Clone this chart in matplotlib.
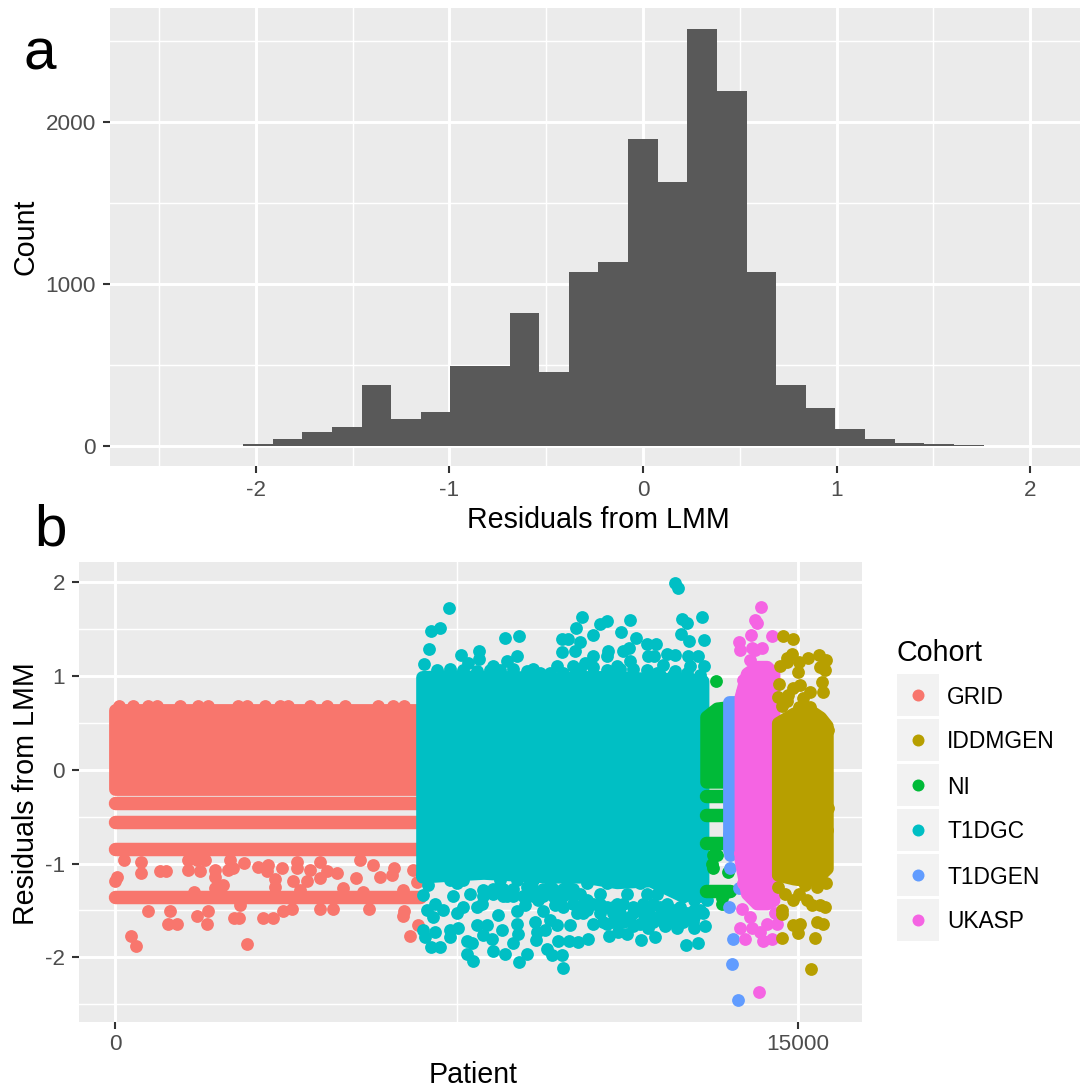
import numpy as np
import matplotlib
matplotlib.use('Agg')
import matplotlib.pyplot as plt
from matplotlib.patches import Rectangle

plt.rcParams['font.family'] = ['Liberation Sans', 'DejaVu Sans']
plt.rcParams['axes.unicode_minus'] = False

# panel a: histogram of the residuals
bin_start = -2.525
bin_width = 0.153
counts = [2, 2, 3, 10, 45, 86, 115, 380, 165, 212, 492, 495, 823, 455, 1075, 1135,
          1895, 1630, 2574, 2190, 1074, 380, 235, 105, 45, 20, 12, 5, 0, 2]

# panel b: cohorts
cohorts = ['GRID', 'IDDMGEN', 'NI', 'T1DGC', 'T1DGEN', 'UKASP']
colors = ['#F8766D', '#B79F00', '#00BA38', '#00BFC4', '#619CFF', '#F564E3']

# dense blocks: patient, lower and upper residual
grid_x = [0, 6700]
grid_low = [-0.20, -0.20]
grid_up = [0.64, 0.64]
grid_rows = [-0.352, -0.561, -0.849, -1.358]
grid_top = [(95, 0.683), (388, 0.683), (732, 0.683), (915, 0.675), (1427, 0.675), (1830, 0.683),
            (2049, 0.683), (2708, 0.683), (2891, 0.683), (3294, 0.683), (3623, 0.683), (3806, 0.683),
            (4282, 0.683), (4648, 0.675), (5050, 0.683), (5783, 0.683), (6112, 0.675), (6346, 0.683)]
grid_out = [(717, -1.504), (1207, -1.504), (1171, -1.643), (1368, -1.643), (1808, -1.561), (2042, -1.504),
            (2027, -1.643), (2613, -1.586), (2730, -1.586), (2752, -1.443), (3257, -1.586), (3462, -1.586),
            (3696, -1.504), (3894, -1.486), (4501, -1.486), (4794, -1.486), (5585, -1.486), (6346, -1.504),
            (6331, -1.561), (344, -1.77), (461, -1.877), (2891, -1.856), (6470, -1.77), (6661, -1.657),
            (197, -0.963), (571, -0.981), (571, -1.098), (51, -1.141), (0, -1.187), (988, -1.077),
            (1120, -1.077), (1610, -1.07), (1866, -1.077), (1610, -0.963), (1793, -0.963), (1976, -0.963),
            (2196, -1.07), (2196, -1.141), (2488, -1.07), (2598, -1.052), (2833, -0.992), (3147, -1.034),
            (3352, -1.017), (3330, -1.077), (3660, -1.052), (3513, -1.166), (3916, -1.184), (4209, -1.184),
            (3989, -1.052), (4282, -1.07), (4501, -1.159), (4648, -1.077), (4867, -1.098), (5292, -1.152),
            (5380, -0.963), (5673, -1.017), (5819, -1.141), (6075, -1.123), (6126, -1.052), (6551, -1.07),
            (6624, -1.195), (3513, -1.248), (4062, -1.283), (2379, -1.23), (2196, -1.266), (1734, -1.301),
            (5014, -1.266), (5453, -1.301), (6331, -1.283), (3989, -0.981), (4501, -0.981), (2525, -0.963)]

t1dgc_x = [6742, 7357, 8089, 8821, 9553, 10285, 11017, 11749, 12481, 12898]
t1dgc_up = [0.99, 1.0, 0.99, 0.99, 0.97, 0.99, 0.99, 0.97, 0.97, 0.95]
t1dgc_low = [-1.14, -1.12, -1.10, -1.12, -1.14, -1.14, -1.2, -1.18, -1.35, -1.2]
t1dgc_edge = [(7064, 1.06), (7357, 1.08), (7650, 1.06), (7943, 1.05), (8235, 1.06), (8455, 1.06), (8748, 1.08),
              (9041, 1.05), (9333, 1.03), (9553, 1.03), (9846, 1.03), (10212, 1.08), (10505, 1.10), (10797, 1.06),
              (11090, 1.08), (11383, 1.08), (11676, 1.06), (11969, 1.01), (12261, 1.01), (12554, 1.03), (12847, 1.01)]
t1dgc_above = [(7342, 1.73), (6932, 1.48), (7137, 1.51), (6903, 1.29), (6786, 1.13), (7599, 1.22),
               (8001, 1.27), (7994, 1.18), (7760, 1.14), (8565, 1.41), (8880, 1.43), (8821, 1.21),
               (8616, 1.16), (8309, 1.11), (9699, 1.11), (10065, 1.11), (9809, 1.39), (9956, 1.40),
               (10212, 1.36), (9809, 1.26), (10102, 1.27), (10117, 1.51), (10263, 1.63), (10490, 1.44),
               (10651, 1.55), (10797, 1.59), (11112, 1.47), (11302, 1.60), (11442, 1.41), (11690, 1.34),
               (11881, 1.34), (10819, 1.27), (11163, 1.27), (11280, 1.30), (10490, 1.21), (10322, 1.14),
               (10797, 1.21), (11310, 1.16), (11712, 1.21), (11837, 1.21), (12115, 1.23), (12298, 1.22),
               (12042, 1.12), (12298, 1.05), (12576, 1.21), (12810, 1.21), (12942, 1.11), (12627, 1.11),
               (12942, 1.38), (12591, 1.37), (12430, 1.45), (12452, 1.61), (12554, 1.57), (12884, 1.63),
               (12298, 1.99), (12357, 1.94), (9187, 1.08), (11017, 1.11), (11895, 1.03)]
t1dgc_below = [(6771, -1.34), (6881, -1.23), (6735, -1.12), (7357, -1.18), (7503, -1.21), (7650, -1.18),
               (7796, -1.32), (7430, -1.35), (6845, -1.50), (7028, -1.43), (7211, -1.50), (6991, -1.57),
               (7503, -1.53), (7650, -1.46), (7943, -1.46), (8052, -1.43), (6771, -1.71), (6808, -1.78),
               (7028, -1.73), (6932, -1.89), (7137, -1.89), (7357, -1.78), (7540, -1.69), (7357, -1.71),
               (7723, -1.83), (7833, -1.85), (7738, -1.96), (7869, -2.04), (7943, -1.66), (8162, -1.66),
               (8089, -1.76), (8309, -1.93), (8272, -1.80), (8418, -1.55), (8492, -1.71), (8565, -1.96),
               (8748, -1.85), (8821, -1.64), (8858, -1.75), (8821, -1.51), (9004, -1.44), (8880, -2.05),
               (9041, -1.97), (9297, -1.39), (9407, -1.51), (9663, -1.44), (9846, -1.46), (9224, -1.62),
               (9260, -1.73), (9246, -1.82), (9443, -1.71), (9553, -1.60), (9699, -1.66), (9992, -1.66),
               (9480, -1.91), (9590, -1.98), (9809, -1.98), (9736, -1.83), (9978, -1.83), (10175, -1.84),
               (9831, -2.11), (10395, -1.80), (10139, -1.53), (10358, -1.50), (10651, -1.53), (10797, -1.46),
               (11017, -1.60), (11310, -1.57), (11603, -1.53), (10856, -1.77), (11237, -1.75), (11054, -1.73),
               (11544, -1.82), (11859, -1.78), (11712, -1.69), (12078, -1.67), (12335, -1.69), (12701, -1.69),
               (12957, -1.67), (12540, -1.87), (12810, -1.85), (11969, -1.46), (12261, -1.50), (12554, -1.53),
               (12847, -1.50), (12701, -1.39), (12993, -1.39), (12408, -1.32), (11676, -1.32), (11237, -1.32),
               (10651, -1.32), (10212, -1.32), (9773, -1.32), (9041, -1.25), (8601, -1.35), (8309, -1.32),
               (8089, -1.28), (8455, -1.18), (8821, -1.18), (9187, -1.18), (9553, -1.23), (9919, -1.23),
               (10358, -1.21), (10797, -1.21), (11237, -1.18), (11529, -1.21), (11895, -1.32), (12115, -1.43),
               (12481, -1.62), (11749, -1.46), (11383, -1.46), (10944, -1.46), (10505, -1.64), (10797, -1.64),
               (11090, -1.53), (11383, -1.67), (12115, -1.57), (12335, -1.57), (12701, -1.57), (12408, -1.46),
               (12701, -1.50), (11822, -1.57), (11529, -1.64), (10651, -1.43), (10358, -1.39), (10065, -1.43),
               (11017, -1.43), (12115, -1.21), (12481, -1.18), (12847, -1.25), (12847, -1.35),
               (8089, -1.35), (8528, -1.35), (8748, -1.35), (8967, -1.35), (9187, -1.35), (9407, -1.35),
               (9626, -1.35), (9846, -1.35), (10065, -1.35), (8309, -1.27), (8528, -1.27), (8748, -1.27),
               (9187, -1.27), (9407, -1.27), (9626, -1.27), (9846, -1.27), (10065, -1.27), (10285, -1.43),
               (10505, -1.43), (10944, -1.53), (11163, -1.43), (11383, -1.53), (11603, -1.43), (11822, -1.43),
               (12042, -1.53), (12261, -1.62), (12481, -1.53), (12700, -1.62), (12920, -1.53), (10285, -1.53),
               (10724, -1.62), (10944, -1.62), (11163, -1.62), (11603, -1.62), (11822, -1.62), (12042, -1.62)]

ni_x = [12978, 13212, 13505]
ni_up = [0.566, 0.655, 0.672]
ni_low = [-0.128, -0.128, -0.128]
ni_rows = [-0.277, -0.487, -0.782, -1.294]
ni_out = [(13190, 0.946), (13139, -1.05), (13139, -0.91), (13212, -0.91), (13102, -1.0), (13468, -1.09),
          (13322, -1.43), (13322, -1.37), (13432, -1.30)]

t1dgen_x = [13490, 13651]
t1dgen_up = [0.726, 0.726]
t1dgen_low = [-0.857, -0.857]
t1dgen_out = [(13505, -0.91), (13505, -1.05), (13703, -1.26), (13490, -1.46), (13578, -1.80),
              (13556, -2.07), (13681, -2.46), (13490, -0.68)]

ukasp_x = [13732, 13871, 14091, 14310, 14457]
ukasp_up = [0.779, 1.028, 1.099, 1.099, 1.028]
ukasp_low = [-0.963, -1.319, -1.426, -1.426, -1.39]
ukasp_out = [(14186, 1.74), (14054, 1.60), (14091, 1.57), (13966, 1.44), (14435, 1.43), (13710, 1.36),
             (13725, 1.28), (13981, 1.30), (14201, 1.30), (14054, 1.28), (13944, 1.17), (13798, 0.96),
             (13761, 0.83), (13725, -0.89), (13798, -1.21), (13761, -1.49), (13944, -1.57), (13725, -1.69),
             (13981, -1.69), (13835, -1.81), (14164, -1.73), (14237, -1.83), (14420, -1.80), (14310, -1.64),
             (14530, -1.64), (14142, -2.37), (14493, -1.53)]

iddm_x = [14552, 14896, 15189, 15481, 15628]
iddm_up = [0.50, 0.60, 0.655, 0.56, 0.47]
iddm_low = [-1.12, -1.16, -1.18, -1.12, -1.05]
iddm_out = [(14676, 1.43), (14881, 1.40), (14859, 1.24), (14749, 1.19), (14603, 1.11), (14749, 1.15),
            (15006, 1.15), (15211, 1.19), (15445, 1.22), (15613, 1.17), (15467, 1.10), (15591, 1.06),
            (14984, 1.04), (15518, 0.94), (15540, 0.83), (14588, 0.91), (15042, 0.90), (14896, 0.87),
            (14786, 0.80), (15262, 0.83), (15115, 0.77), (14566, 0.78), (14640, 0.68), (14749, 0.73),
            (15262, 0.67), (15006, 0.67), (14566, -1.25), (14713, -1.32), (14896, -1.39), (15006, -1.32),
            (15189, -1.39), (15298, -1.44), (15481, -1.44), (15591, -1.46), (15613, -1.21), (15408, -1.25),
            (15152, -1.23), (14640, -1.50), (14640, -1.54), (14881, -1.66), (15028, -1.64), (14984, -1.74),
            (15423, -1.62), (15540, -1.65), (15372, -1.79), (14640, -1.79), (15284, -2.12), (14566, -1.11),
            (15591, -0.89), (15628, -0.64), (15664, -0.41), (15664, 0.42)]

W, H = 1080, 1088
DOT = 12.8 * 0.72  # point diameter in pt at dpi 100
GREY = '#EBEBEB'


def make_axes(x0, y0, x1, y1):
    ax = plt.gcf().add_axes([x0 / W, 1 - y1 / H, (x1 - x0) / W, (y1 - y0) / H])
    ax.set_facecolor(GREY)
    ax.set_axisbelow(True)
    for s in ax.spines.values():
        s.set_visible(False)
    ax.grid(True, which='major', color='white', lw=2.1)
    ax.grid(True, which='minor', color='white', lw=1.05)
    ax.tick_params(which='major', length=5, width=1.5, color='#333333', labelcolor='#4D4D4D',
                   labelsize=16.2, pad=5)
    ax.tick_params(which='minor', length=0)
    return ax


def dots(ax, pairs, color):
    x = [p[0] for p in pairs]
    y = [p[1] for p in pairs]
    ax.scatter(x, y, s=DOT ** 2, color=color, linewidths=0, zorder=3)


def block(ax, x, low, up, color):
    ax.fill_between(x, low, up, color=color, lw=DOT, joinstyle='round', zorder=3)


def rows(ax, x0, x1, ys, color):
    for y in ys:
        ax.plot([x0, x1], [y, y], color=color, lw=9.7, solid_capstyle='round', zorder=3)


fig = plt.figure(figsize=(W / 100, H / 100), dpi=100)

# a
ax = make_axes(110, 8, 1080, 466)
edges = bin_start + bin_width * np.arange(len(counts))
ax.bar(edges, counts, width=bin_width, align='edge', color='#595959', linewidth=0, zorder=3)
ax.set_xlim(-2.753, 2.257)
ax.set_ylim(-123, 2704)
ax.set_xticks([-2, -1, 0, 1, 2])
ax.set_xticks([-2.5, -1.5, -0.5, 0.5, 1.5], minor=True)
ax.set_yticks([0, 1000, 2000])
ax.set_yticks([500, 1500, 2500], minor=True)
ax.set_xlabel('Residuals from LMM', fontsize=20.6, labelpad=4, x=0.503)
ax.set_ylabel('Count', fontsize=20.6)
ax.yaxis.set_label_coords(-0.073, 0.5)

# b
ax = make_axes(79, 562, 862, 1022)
c = dict(zip(cohorts, colors))
block(ax, grid_x, grid_low, grid_up, c['GRID'])
rows(ax, grid_x[0], grid_x[1], grid_rows, c['GRID'])
dots(ax, grid_top, c['GRID'])
dots(ax, grid_out, c['GRID'])
block(ax, t1dgc_x, t1dgc_low, t1dgc_up, c['T1DGC'])
dots(ax, t1dgc_edge, c['T1DGC'])
dots(ax, t1dgc_above, c['T1DGC'])
dots(ax, t1dgc_below, c['T1DGC'])
block(ax, ni_x, ni_low, ni_up, c['NI'])
rows(ax, ni_x[0], ni_x[-1], ni_rows, c['NI'])
dots(ax, ni_out, c['NI'])
block(ax, t1dgen_x, t1dgen_low, t1dgen_up, c['T1DGEN'])
dots(ax, t1dgen_out, c['T1DGEN'])
block(ax, ukasp_x, ukasp_low, ukasp_up, c['UKASP'])
dots(ax, ukasp_out, c['UKASP'])
block(ax, iddm_x, iddm_low, iddm_up, c['IDDMGEN'])
dots(ax, iddm_out, c['IDDMGEN'])
ax.set_xlim(-790, 16400)
ax.set_ylim(-2.69, 2.216)
ax.set_xticks([0, 15000])
ax.set_xticks([7500], minor=True)
ax.set_yticks([-2, -1, 0, 1, 2])
ax.set_yticks([-2.5, -1.5, -0.5, 0.5, 1.5], minor=True)
ax.tick_params(axis='x', pad=4)
ax.set_xlabel('Patient', fontsize=20.6, labelpad=4, x=0.503)
ax.set_ylabel('Residuals from LMM', fontsize=20.6)
ax.yaxis.set_label_coords(-0.05, 0.497)

# legend and panel letters, in pixel coordinates
lg = fig.add_axes([0, 0, 1, 1])
lg.set_xlim(0, W)
lg.set_ylim(H, 0)
lg.axis('off')
lg.text(896, 653, 'Cohort', fontsize=20.6, va='center', ha='left')
for i, name in enumerate(cohorts):
    y = 695 + 45 * i
    lg.add_patch(Rectangle((897, y - 21), 42, 42, facecolor='#F2F2F2', edgecolor='none'))
    lg.scatter([918], [y], s=(12 * 0.72) ** 2, color=colors[i], linewidths=0)
    lg.text(947, y + 2, name, fontsize=16.4, va='center', ha='left')
lg.text(24, 70, 'a', fontsize=42, va='baseline', ha='left')
lg.text(34, 546, 'b', fontsize=42, va='baseline', ha='left')

fig.savefig('out.png', dpi=100)
